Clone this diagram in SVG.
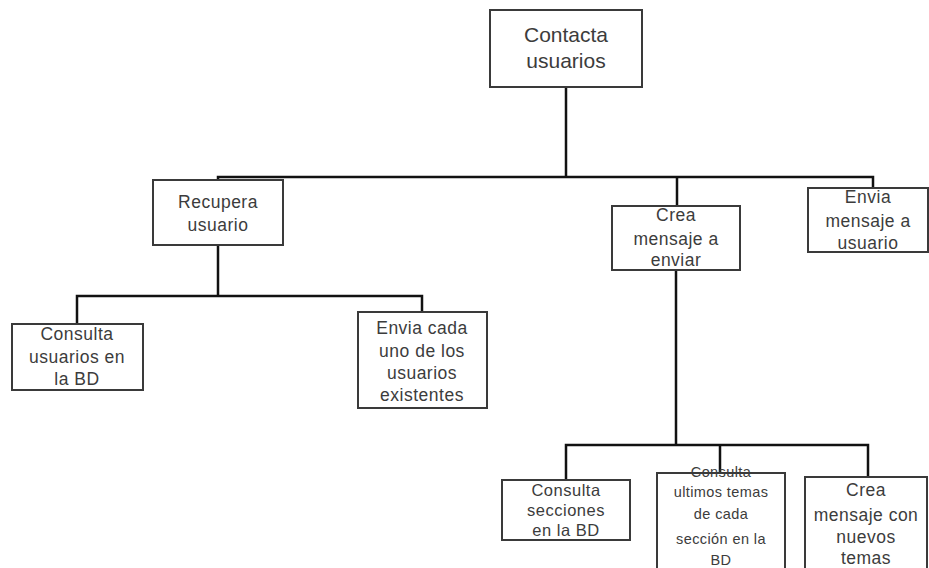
<svg xmlns="http://www.w3.org/2000/svg" width="929" height="568" viewBox="0 0 929 568">
<style>
.box{fill:#fff;stroke:#3a3a3a;stroke-width:2}
.t{font-family:"Liberation Sans",Arial,sans-serif;font-size:17.5px;letter-spacing:0.5px;fill:#3c3c3c;text-anchor:middle}
.big{font-size:21px;letter-spacing:0}
.sm{font-size:14.5px;letter-spacing:0.4px}
.md{font-size:16.5px}
.c{fill:none;stroke:#111;stroke-width:2.5}
</style>
<rect width="929" height="568" fill="#fff"/>
<g id="connectors">
<path class="c" d="M566 88V177M218 180V177H677V206M677 177H873V188"/>
<path class="c" d="M218 245V296M77 324V296H422V312"/>
<path class="c" d="M676 270V445M566 480V445H868V477M720 445V473"/>
</g>
<g id="n1"><rect class="box" x="490" y="10" width="152" height="77"/>
<text class="t big" x="566" y="42">Contacta</text><text class="t big" x="566" y="68">usuarios</text></g>
<g id="n2"><rect class="box" x="153" y="180" width="130" height="65"/>
<text class="t" x="218" y="208">Recupera</text><text class="t" x="218" y="231">usuario</text></g>
<g id="n3"><rect class="box" x="612" y="206" width="128" height="64"/>
<text class="t" x="676" y="221">Crea</text><text class="t" x="676" y="245">mensaje a</text><text class="t" x="676" y="266">enviar</text></g>
<g id="n4"><rect class="box" x="808" y="188" width="120" height="64"/>
<text class="t" x="868" y="203">Envia</text><text class="t" x="868" y="227">mensaje a</text><text class="t" x="868" y="249">usuario</text></g>
<g id="n5"><rect class="box" x="12" y="324" width="131" height="66"/>
<text class="t" x="77" y="340">Consulta</text><text class="t" x="77" y="363">usuarios en</text><text class="t" x="77" y="385">la BD</text></g>
<g id="n6"><rect class="box" x="358" y="312" width="129" height="96"/>
<text class="t" x="422" y="334">Envia cada</text><text class="t" x="422" y="357">uno de los</text><text class="t" x="422" y="379">usuarios</text><text class="t" x="422" y="401">existentes</text></g>
<g id="n7"><rect class="box" x="502" y="480" width="128" height="60"/>
<text class="t md" x="566" y="496">Consulta</text><text class="t md" x="566" y="516">secciones</text><text class="t md" x="566" y="536">en la BD</text></g>
<g id="n8"><rect class="box" x="657" y="473" width="128" height="100"/>
<text class="t sm" x="721" y="477">Consulta</text><text class="t sm" x="721" y="497">ultimos temas</text><text class="t sm" x="721" y="519">de cada</text><text class="t sm" x="721" y="544">sección en la</text><text class="t sm" x="721" y="565">BD</text></g>
<g id="n9"><rect class="box" x="805" y="477" width="122" height="96"/>
<text class="t" x="866" y="496">Crea</text><text class="t" x="866" y="521">mensaje con</text><text class="t" x="866" y="543">nuevos</text><text class="t" x="866" y="564">temas</text></g>
</svg>
